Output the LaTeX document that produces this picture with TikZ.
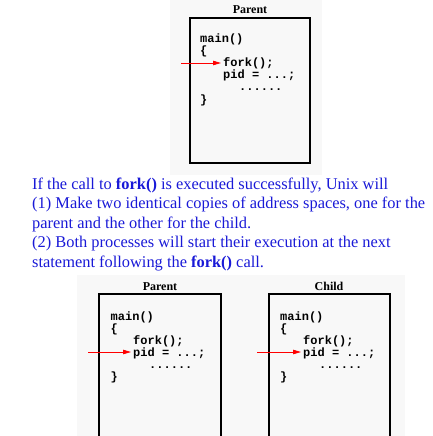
\documentclass[tikz,border=0pt]{standalone}
\usepackage{fontspec}
\setmainfont{Liberation Serif}
\setmonofont{Liberation Mono}
\usetikzlibrary{arrows.meta}
\definecolor{panelgray}{RGB}{248,248,248}
\definecolor{noteblue}{RGB}{25,25,215}
\tikzset{
  panel/.style={fill=panelgray, draw=none},
  membox/.style={draw=black, line width=1.6pt, fill=panelgray},
  code/.style={anchor=base west, inner sep=2pt, font=\ttfamily\bfseries\fontsize{12}{12}\selectfont},
  title/.style={anchor=base, inner sep=0pt, font=\bfseries\fontsize{12}{14}\selectfont},
  note/.style={anchor=base west, inner sep=0pt, text=noteblue, font=\fontsize{16.4}{19.5}\selectfont},
  pcarrow/.style={red, line width=0.8pt, {}-{Triangle[length=8pt,width=4.5pt]}}
}
\begin{document}
\begin{tikzpicture}[x=1pt, y=-1pt]
\useasboundingbox (0,0) rectangle (433,436);

% top: before the call
\fill[panel] (170,0) rectangle (322,175);
\node[title] (ptop) at (250,14) {Parent};
\draw[membox] (190,18) rectangle (310,163);
\node[code] (pmain) at (198,42) {main()};
\node[code] (popen) at (198,54.2) {\{};
\node[code] (pfork) at (221,66.4) {fork();};
\node[code] (ppid) at (221,78.6) {pid = ...;};
\node[code] (pdots) at (237,90.8) {......};
\node[code] (pclose) at (198,103) {\}};
\coordinate (ppc) at (181,63);
\draw[pcarrow] (ppc) -- (ppc -| pfork.west);

% the note
\node[note] (l1) at (32,189) {If the call to \textbf{fork()} is executed successfully, Unix will};
\node[note] (l2) at (32,208.5) {(1) Make two identical copies of address spaces, one for the};
\node[note] (l3) at (32,228) {parent and the other for the child.};
\node[note] (l4) at (32,247.5) {(2) Both processes will start their execution at the next};
\node[note] (l5) at (32,267) {statement following the \textbf{fork()} call.};

% bottom: after the call
\fill[panel] (77,275) rectangle (405,436);
\node[title] (pbot) at (160,290) {Parent};
\fill[panelgray] (99,294) rectangle (221,436);
\draw[membox] (99,436) -- (99,294) -- (221,294) -- (221,436);
\node[code] (qmain) at (108.5,320) {main()};
\node[code] (qopen) at (108.5,332) {\{};
\node[code] (qfork) at (131,344) {fork();};
\node[code] (qpid) at (131,356) {pid = ...;};
\node[code] (qdots) at (147,368) {......};
\node[code] (qclose) at (108.5,380) {\}};
\coordinate (qpc) at (88,352);
\draw[pcarrow] (qpc) -- (qpc -| qpid.west);

\node[title] (cbot) at (329,290) {Child};
\fill[panelgray] (269,294) rectangle (390,436);
\draw[membox] (269,436) -- (269,294) -- (390,294) -- (390,436);
\node[code] (cmain) at (278,320) {main()};
\node[code] (copen) at (278,332) {\{};
\node[code] (cfork) at (301,344) {fork();};
\node[code] (cpid) at (301,356) {pid = ...;};
\node[code] (cdots) at (317,368) {......};
\node[code] (cclose) at (278,380) {\}};
\coordinate (cpc) at (257,352);
\draw[pcarrow] (cpc) -- (cpc -| cpid.west);
\end{tikzpicture}
\end{document}
